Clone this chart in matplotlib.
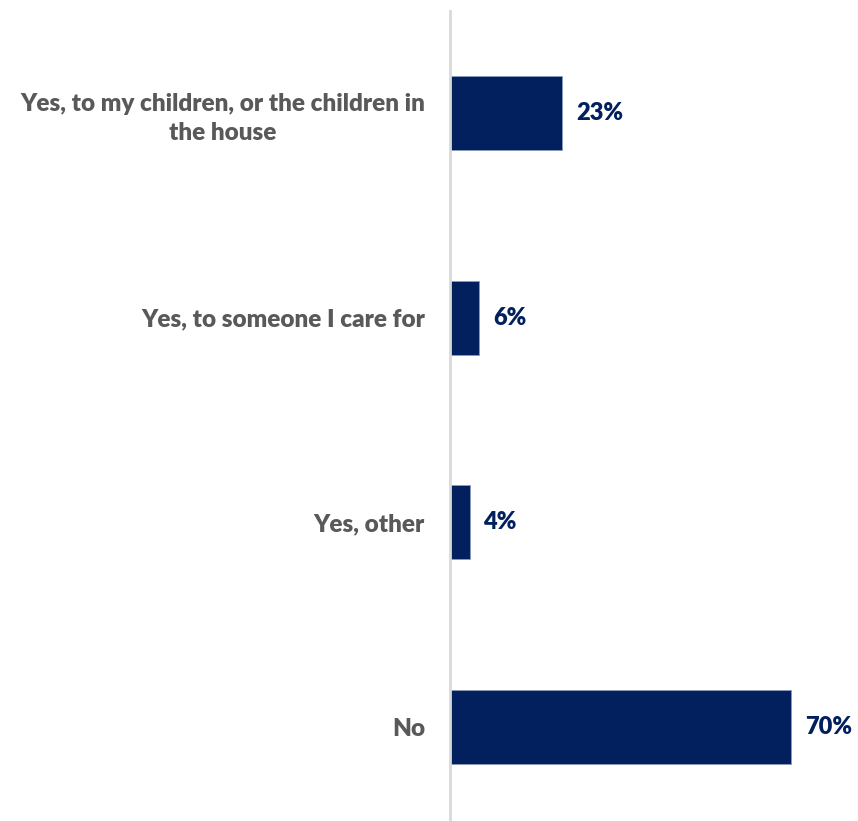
import matplotlib.pyplot as plt

labels = ["Yes, to my children, or the children in\nthe house",
          "Yes, to someone I care for",
          "Yes, other",
          "No"]
values = [23, 6, 4, 70]

navy = "#021f5e"
grey = "#595959"
plt.rcParams['font.family'] = ['Lato', 'DejaVu Sans']

fig = plt.figure(figsize=(8.58, 8.21), dpi=100)
ax = fig.add_axes([450 / 858, -8 / 821, 390 / 858, 818 / 821])

pos = list(range(len(values)))
ax.barh(pos, values, height=0.36, color=navy, edgecolor="#8a9ab8", linewidth=0.6)
ax.set_ylim(3.5, -0.5)
ax.set_xlim(0, 80)

for y, v in zip(pos, values):
    ax.annotate(f"{v}%", (v, y), xytext=(10, 0), textcoords="offset points",
                ha="left", va="center", fontsize=17, fontweight="heavy", color=navy)

ax.set_yticks(pos)
ax.set_yticklabels(labels, fontsize=17.5, fontweight="heavy", color=grey,
                   multialignment="center", linespacing=1.4)
ax.tick_params(axis="y", length=0, pad=18)
ax.set_xticks([])

for s in ["top", "right", "bottom"]:
    ax.spines[s].set_visible(False)
ax.spines["left"].set_color("#d9d9d9")
ax.spines["left"].set_linewidth(2)

fig.savefig("out.png", dpi=100)
